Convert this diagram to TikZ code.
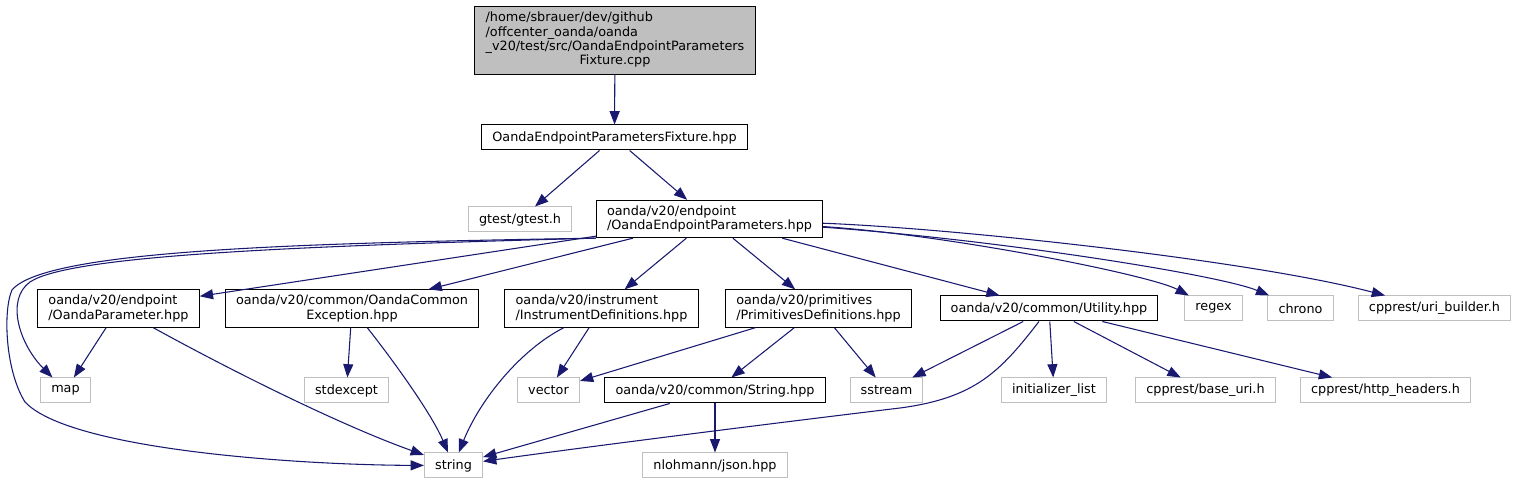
\documentclass[tikz,border=0pt]{standalone}
\usepackage{fontspec}
\setmainfont{DejaVu Sans}
\usepackage{xcolor}
\usepackage{tikz}
\usetikzlibrary{arrows.meta}
\definecolor{edgeblue}{HTML}{191970}
\definecolor{extgray}{HTML}{BFBFBF}

\begin{document}
\begin{tikzpicture}[
  x=0.75pt,y=-0.75pt,
  font=\fontsize{9.6}{10.7}\selectfont,
  doc/.style={rectangle,draw=black,line width=0.75pt,fill=white,inner xsep=8pt,inner ysep=4pt,minimum height=18.75pt,align=left},
  ext/.style={doc,draw=extgray},
  root/.style={doc,fill=extgray},
  dep/.style={-{Triangle[length=10pt,width=7.5pt]},draw=edgeblue,line width=0.8pt}
]
  \useasboundingbox (0,0) rectangle (1518,484);

  \node[root] (fixcpp) at (615,40.5) {\begin{tabular}{@{}l@{}}/home/sbrauer/dev/github\\/offcenter\_oanda/oanda\\\_v20/test/src/OandaEndpointParameters\\\multicolumn{1}{@{}c@{}}{Fixture.cpp}\end{tabular}};
  \node[doc] (fixhpp) at (614.5,137.5) {OandaEndpointParametersFixture.hpp};
  \node[ext] (gtest) at (520,219.5) {gtest/gtest.h};
  \node[doc] (oep) at (709.5,219) {oanda/v20/endpoint\\/OandaEndpointParameters.hpp};

  \node[doc] (oparam) at (118.5,308.5) {oanda/v20/endpoint\\/OandaParameter.hpp};
  \node[doc,align=center] (oexc) at (352,308.5) {oanda/v20/common/OandaCommon\\Exception.hpp};
  \node[doc] (instr) at (601.5,308.5) {oanda/v20/instrument\\/InstrumentDefinitions.hpp};
  \node[doc] (prim) at (818.5,308.5) {oanda/v20/primitives\\/PrimitivesDefinitions.hpp};
  \node[doc] (util) at (1049,308.5) {oanda/v20/common/Utility.hpp};
  \node[ext] (regex) at (1213.5,308.5) {regex};
  \node[ext] (chrono) at (1300.5,308.5) {chrono};
  \node[ext] (uribld) at (1434.5,308.5) {cpprest/uri\_builder.h};

  \node[ext] (map) at (65.5,390.5) {map};
  \node[ext] (stdexc) at (346.5,390.5) {stdexcept};
  \node[ext] (vector) at (548.5,390.5) {vector};
  \node[doc] (strhpp) at (715,390.5) {oanda/v20/common/String.hpp};
  \node[ext] (sstream) at (886.5,390.5) {sstream};
  \node[ext] (initlist) at (1054,390.5) {initializer\_list};
  \node[ext] (baseuri) at (1205.5,390.5) {cpprest/base\_uri.h};
  \node[ext] (httphdr) at (1385.5,390.5) {cpprest/http\_headers.h};

  \node[ext] (string) at (453.5,465.5) {string};
  \node[ext] (json) at (715,465.5) {nlohmann/json.hpp};

  \draw[dep] (fixcpp) -- (fixhpp);
  \draw[dep] (fixhpp) -- (gtest);
  \draw[dep] (fixhpp) -- (oep);

  \draw[dep] (oep) -- (oparam);
  \draw[dep] (oep) -- (oexc);
  \draw[dep] (oep) -- (instr);
  \draw[dep] (oep) -- (prim);
  \draw[dep] (oep) -- (util);
  \draw[dep] (oep) .. controls (950,235) and (1150,275) .. (regex);
  \draw[dep] (oep) .. controls (1000,240) and (1220,275) .. (chrono);
  \draw[dep] (oep) .. controls (950,228) and (1250,260) .. (uribld);
  \draw[dep] (oep.south west) .. controls (300,246) and (70,255) .. (30,282)
    .. controls (5,300) and (20,345) .. (map);
  \draw[dep] (oep.south west) .. controls (300,243) and (45,250) .. (12,290)
    .. controls (3,310) and (5,370) .. (25,402)
    .. controls (70,450) and (300,465) .. (string);

  \draw[dep] (oparam) -- (map);
  \draw[dep] (oparam) .. controls (230,370) and (340,425) .. (string);
  \draw[dep] (oexc) -- (stdexc);
  \draw[dep] (oexc) .. controls (385,350) and (430,410) .. (string);
  \draw[dep] (instr) -- (vector);
  \draw[dep] (instr) .. controls (520,350) and (480,400) .. (string);
  \draw[dep] (prim) -- (vector);
  \draw[dep] (prim) -- (strhpp);
  \draw[dep] (prim) -- (sstream);

  \draw[dep] (util) -- (sstream);
  \draw[dep] (util) .. controls (1000,372) and (975,398) .. (900,408)
    .. controls (800,420) and (600,445) .. (string);
  \draw[dep] (util) -- (initlist);
  \draw[dep] (util) -- (baseuri);
  \draw[dep] (util) -- (httphdr);

  \draw[dep] (strhpp) -- (string);
  \draw[dep] (strhpp) -- (json);
\end{tikzpicture}
\end{document}
